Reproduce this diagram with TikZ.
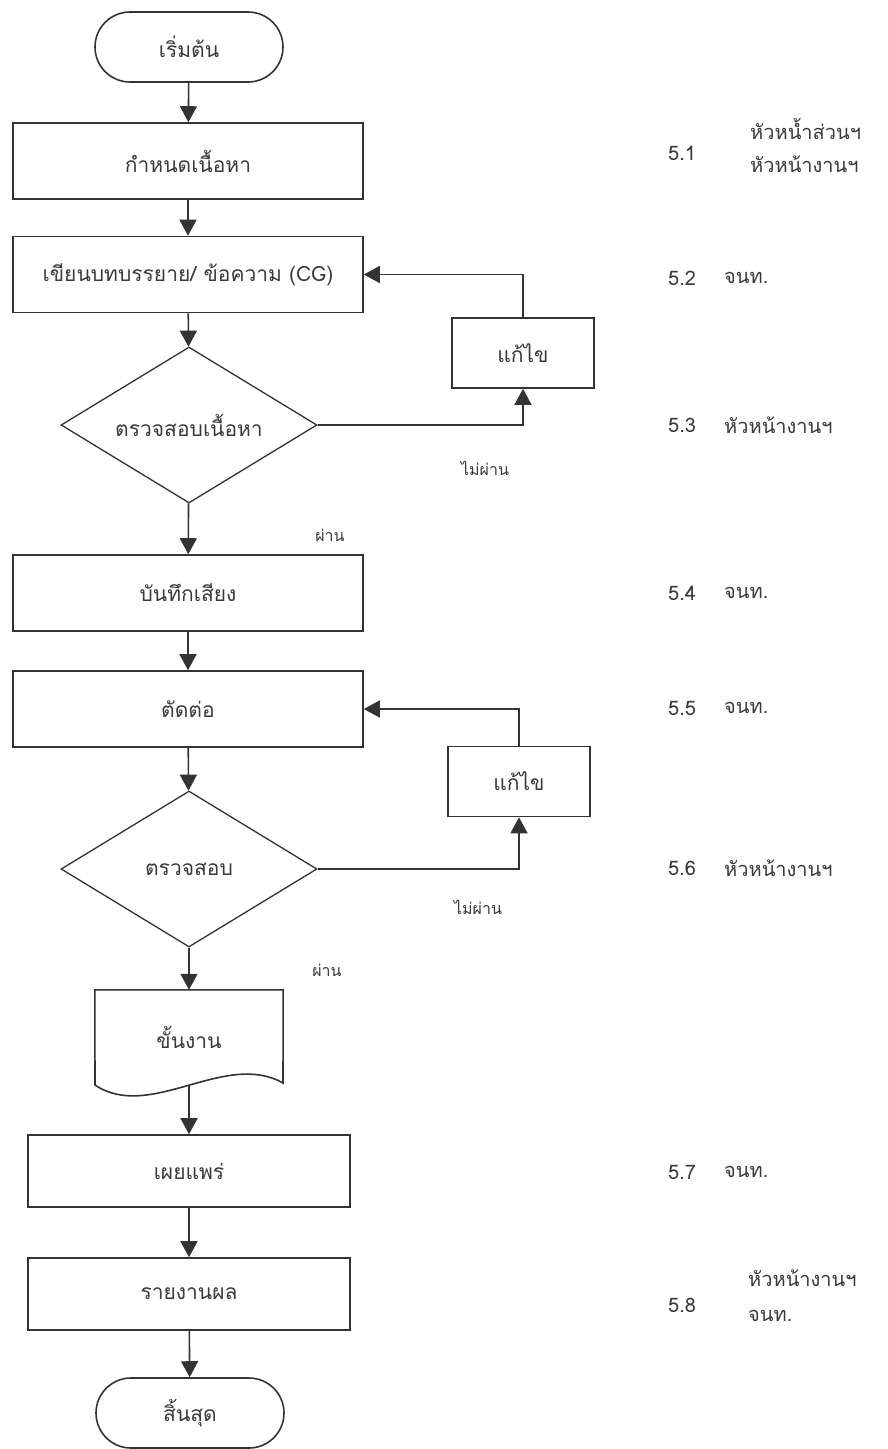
\documentclass[tikz,border=0pt]{standalone}
\usepackage{fontspec}
\setmainfont[Script=Thai]{Loma}
\usetikzlibrary{shapes.geometric,arrows.meta}
\definecolor{ln}{HTML}{333333}
\definecolor{tx}{HTML}{3A3A3A}
\begin{document}
\begin{tikzpicture}[x=1pt,y=-1pt,
  box/.style={draw=ln, line width=1.6pt, rectangle, minimum width=350pt, minimum height=76pt, inner sep=0pt, font=\fontsize{21}{24}\selectfont, text=tx},
  term/.style={box, rounded corners=35pt, minimum width=188pt, minimum height=70pt},
  dec/.style={draw=ln, line width=1.3pt, diamond, aspect=1.64, minimum width=256pt, minimum height=156pt, inner sep=0pt, font=\fontsize{21}{24}\selectfont, text=tx},
  fixbox/.style={box, minimum width=142pt, minimum height=70pt},
  docbox/.style={rectangle, minimum width=188pt, minimum height=95pt, inner sep=0pt, font=\fontsize{21}{24}\selectfont, text=tx},
  arr/.style={draw=ln, line width=1.6pt, -{Triangle[width=17pt,length=16pt]}},
  lab/.style={font=\fontsize{16}{18}\selectfont, text=tx},
  note/.style={font=\fontsize{20}{24}\selectfont, text=tx, anchor=west, inner sep=0pt}]
\useasboundingbox (0,0) rectangle (887,1449);
\fill[white] (0,0) rectangle (887,1449);

\node[term] (start) at (189,47) {เริ่มต้น};
\node[box] (b1) at (188,161) {กำหนดเนื้อหา};
\node[box] (b2) at (188,274.5) {เขียนบทบรรยาย/ ข้อความ (CG)};
\node[fixbox] (e1) at (523,353) {แก้ไข};
\node[dec] (d1) at (189,425) {ตรวจสอบเนื้อหา};
\node[box] (b3) at (188,593) {บันทึกเสียง};
\node[box] (b4) at (188,709) {ตัดต่อ};
\node[fixbox] (e2) at (519,781.5) {แก้ไข};
\node[dec] (d2) at (189,869) {ตรวจสอบ};
\node[docbox] (doc) at (189,1037.5) {ขั้นงาน};
\draw[ln, line width=1.6pt] (doc.north west) -- (doc.north east) -- (283,1083)
  .. controls (225,1050) and (150,1122) .. (95,1085) -- cycle;
\node[box, minimum width=322pt, minimum height=72pt] (b5) at (189,1171) {เผยแพร่};
\node[box, minimum width=322pt, minimum height=72pt] (b6) at (189,1294) {รายงานผล};
\node[term] (end) at (190,1413) {สิ้นสุด};

\draw[arr] (start) -- (b1);
\draw[arr] (b1) -- (b2);
\draw[arr] (b2) -- (d1);
\draw[arr] (d1) -- (b3);
\draw[arr] (b3) -- (b4);
\draw[arr] (b4) -- (d2);
\draw[arr] (d2) -- (doc);
\draw[arr] (doc.south) -- (b5);
\draw[arr] (b5) -- (b6);
\draw[arr] (b6) -- (end);
\draw[arr] (d1.east) -| (e1.south);
\draw[arr] (e1.north) |- (b2.east);
\draw[arr] (d2.east) -| (e2.south);
\draw[arr] (e2.north) |- (b4.east);

\node[lab] (n1) at (485,468) {ไม่ผ่าน};
\node[lab] (p1) at (330,535) {ผ่าน};
\node[lab] (n2) at (478,907) {ไม่ผ่าน};
\node[lab] (p2) at (327,970) {ผ่าน};

\node[note] (s1) at (668,153) {5.1};
\node[note] (s1a) at (750,129) {หัวหน้ำส่วนฯ};
\node[note] (s1b) at (750,164) {หัวหน้างานฯ};
\node[note] (s2) at (668,278) {5.2};
\node[note] (s2a) at (724,278) {จนท.};
\node[note] (s3) at (668,425) {5.3};
\node[note] (s3a) at (724,425) {หัวหน้างานฯ};
\node[note] (s4) at (668,593) {5.4};
\node[note] (s4a) at (724,593) {จนท.};
\node[note] (s5) at (668,708) {5.5};
\node[note] (s5a) at (724,708) {จนท.};
\node[note] (s6) at (668,868) {5.6};
\node[note] (s6a) at (724,868) {หัวหน้างานฯ};
\node[note] (s7) at (668,1172) {5.7};
\node[note] (s7a) at (724,1172) {จนท.};
\node[note] (s8) at (668,1305) {5.8};
\node[note] (s8a) at (748,1278) {หัวหน้างานฯ};
\node[note] (s8b) at (748,1316) {จนท.};
\end{tikzpicture}
\end{document}
